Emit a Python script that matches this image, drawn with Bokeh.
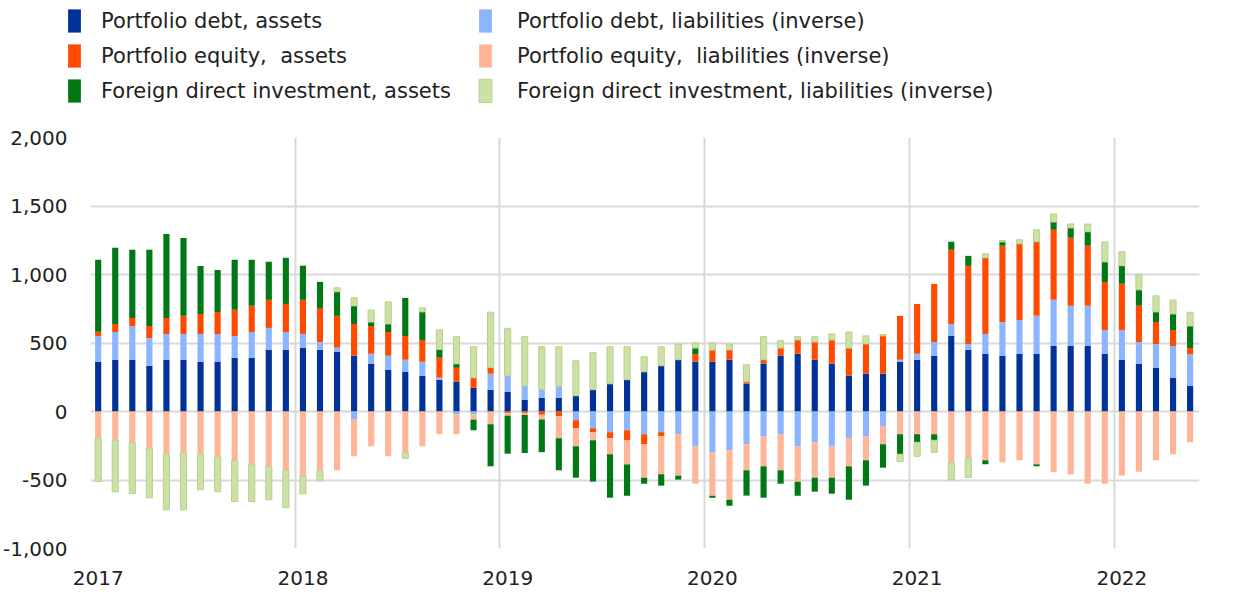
import numpy as np
import pandas as pd
from bokeh.plotting import figure
from bokeh.layouts import column
from bokeh.models import (Range1d, FixedTicker, NumeralTickFormatter, Legend,
                          LegendItem, ColumnDataSource)
from bokeh.embed import file_html
from bokeh.resources import INLINE

months = pd.date_range("2017-01-01", periods=65, freq="MS")
year_labels = ["2017", "2018", "2019", "2020", "2021", "2022"]

debt_assets = [363, 378, 378, 334, 378, 378, 363, 363, 393, 393, 451, 451,
               466, 451, 437, 407, 349, 305, 290, 261, 232, 217, 173, 159,
               144, 85, 100, 100, 115, 159, 202, 232, 290, 334, 378, 363,
               363, 378, 202, 349, 407, 422, 378, 349, 261, 276, 276, 363,
               378, 407, 551, 451, 422, 407, 422, 422, 478, 478, 478, 422,
               378, 349, 320, 246, 188]
debt_liabilities = [188, 202, 244, 202, 188, 188, 202, 202, 159, 188, 159, 129,
                    100, 56, 29, -59, 73, 102, 88, 102, 15, -20, -20, 117,
                    117, 102, 59, 83, -63, -122, -151, -137, -166, -151, -166, -254,
                    -298, -283, -239, -180, -166, -254, -224, -254, -195, -180, -107, 15,
                    44, 100, 88, 41, 144, 246, 246, 276, 337, 293, 293, 173,
                    217, 159, 173, 232, 229]
equity_assets = [32, 59, 61, 88, 117, 132, 146, 161, 190, 190, 205, 205,
                 249, 249, 232, 232, 202, 173, 173, 159, 146, 102, 73, 44,
                 -10, -10, -24, -34, -59, -29, -44, -73, -73, -29, 0, 56,
                 85, 71, 15, 29, 56, 100, 129, 173, 202, 217, 276, 320,
                 363, 424, 541, 571, 556, 556, 556, 541, 512, 498, 439, 351,
                 337, 263, 161, 117, 46]
equity_liabilities = [-195, -210, -224, -268, -312, -298, -312, -327, -356, -385, -400, -429,
                      -473, -429, -429, -268, -254, -327, -298, -254, -166, -146, -39, -93,
                      -20, -15, -34, -161, -132, -59, -117, -176, -244, -278, -302, -273,
                      -317, -361, -190, -220, -263, -259, -259, -229, -205, -176, -132, -166,
                      -166, -166, -371, -341, -356, -371, -356, -385, -444, -459, -527, -527,
                      -468, -439, -356, -312, -224]
fdi_assets = [524, 556, 498, 556, 612, 568, 351, 307, 366, 337, 278, 337,
              249, 190, 176, 132, 29, 59, 278, 205, 59, 29, -78, -307,
              -278, -278, -239, -234, -229, -302, -317, -229, -44, -83, -29, 44,
              -15, -44, -185, -229, -98, -102, -102, -117, -244, -185, -171, -146,
              -59, -44, 59, 73, -29, 29, 0, -15, 56, 71, 102, 146,
              132, 117, 73, 117, 161]
fdi_liabilities = [-317, -376, -376, -361, -405, -420, -259, -259, -302, -273, -244, -273,
                   -127, -73, 29, 59, 88, 161, -44, 29, 144, 198, 227, 405,
                   346, 359, 315, 290, 256, 271, 271, 241, 110, 139, 115, 39,
                   54, 44, 124, 168, 54, 24, 39, 44, 117, 59, 10, -54,
                   -102, -88, -127, -141, 29, 10, 29, 88, 59, 29, 56, 146,
                   102, 112, 117, 102, 100]

series_names = ["Portfolio debt, assets",
                "Portfolio debt, liabilities (inverse)",
                "Portfolio equity,  assets",
                "Portfolio equity,  liabilities (inverse)",
                "Foreign direct investment, assets",
                "Foreign direct investment, liabilities (inverse)"]
series_values = [debt_assets, debt_liabilities, equity_assets,
                 equity_liabilities, fdi_assets, fdi_liabilities]
colors = ["#003299", "#8cb4ff", "#ff4b00", "#ffb597", "#007816", "#cde0a5"]
line_colors = [None, None, None, None, None, "#b7d18e"]

n = len(months)
x = np.arange(n)  # month index; January bars fall on multiples of 12

LEG_H = 110
p = figure(width=1224, height=589 - LEG_H, output_backend="svg", toolbar_location=None,
           x_range=Range1d(-0.45, n - 0.45), y_range=Range1d(-1000, 2000),
           min_border_left=87, min_border_right=25, min_border_top=27,
           min_border_bottom=41)
p.outline_line_color = None
p.frame_align = False

pos_base = np.zeros(n)
neg_base = np.zeros(n)
sources = []
for name, vals, col, lc in zip(series_names, series_values, colors, line_colors):
    v = np.array(vals, dtype=float)
    bottom = np.where(v >= 0, pos_base, neg_base)
    top = bottom + v
    pos_base = np.where(v >= 0, pos_base + v, pos_base)
    neg_base = np.where(v < 0, neg_base + v, neg_base)
    src = ColumnDataSource(dict(x=x, bottom=bottom, top=top,
                                month=[m.strftime("%Y-%m") for m in months]))
    sources.append(src)
    p.vbar(x="x", bottom="bottom", top="top", width=0.36, source=src,
           fill_color=col, line_color=lc, line_width=1 if lc else 0)

# grid
p.ygrid.ticker = FixedTicker(ticks=[-1000, -500, 0, 500, 1000, 1500, 2000])
p.xgrid.ticker = FixedTicker(ticks=[12 * i - 0.45 for i in range(6)])
for g in (p.xgrid, p.ygrid):
    g.grid_line_color = "#d9d9d9"
    g.grid_line_width = 2

# axes
p.yaxis.ticker = FixedTicker(ticks=[-1000, -500, 0, 500, 1000, 1500, 2000])
p.yaxis.formatter = NumeralTickFormatter(format="0,0")
p.xaxis.ticker = FixedTicker(ticks=[12 * i for i in range(6)])
p.xaxis.major_label_overrides = {12 * i: lab for i, lab in enumerate(year_labels)}
for ax in (p.xaxis[0], p.yaxis[0]):
    ax.axis_line_color = None
    ax.major_tick_line_color = None
    ax.minor_tick_line_color = None
    ax.major_label_text_font = "DejaVu Sans"
    ax.major_label_text_font_size = "20px"
    ax.major_label_text_color = "#222222"
p.yaxis.major_label_standoff = 17
p.xaxis.major_label_standoff = 16

# legend panel: a separate figure whose frame covers its whole area
lf = figure(width=1224, height=LEG_H, output_backend="svg", toolbar_location=None,
            x_range=Range1d(-1000, -999), y_range=Range1d(0, 1),
            x_axis_location=None, y_axis_location=None,
            min_border_left=0, min_border_right=0, min_border_top=0,
            min_border_bottom=0)
lf.outline_line_color = None
lf.frame_align = False
lf.xgrid.visible = False
lf.ygrid.visible = False
proxies = []
for src, col, lc in zip(sources, colors, line_colors):
    proxies.append(lf.vbar(x="x", bottom="bottom", top="top", width=0.36,
                           source=src, fill_color=col, line_color=lc,
                           line_width=1 if lc else 0))

def make_legend(idx, loc, standoff):
    items = [LegendItem(label=series_names[i], renderers=[proxies[i]]) for i in idx]
    return Legend(items=items, location=loc, orientation="vertical",
                  border_line_color=None, background_fill_alpha=0,
                  padding=0, margin=0, spacing=6, glyph_width=16,
                  glyph_height=29, label_height=20, label_standoff=standoff,
                  label_text_font="DejaVu Sans", label_text_font_size="21px",
                  label_text_color="#222222")

lf.add_layout(make_legend((0, 2, 4), (66, 5), 19), "center")
lf.add_layout(make_legend((1, 3, 5), (477, 5), 24), "center")

layout = column(lf, p, spacing=0)
open("out.html", "w").write(file_html(layout, INLINE))
